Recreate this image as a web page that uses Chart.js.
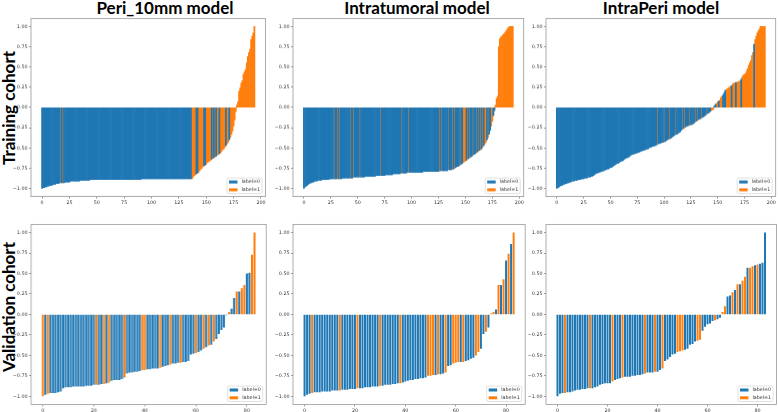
<!DOCTYPE html>
<html>
<head>
<meta charset="utf-8">
<script src="https://cdn.jsdelivr.net/npm/chart.js@4.4.1/dist/chart.umd.min.js"></script>
<style>
  body { margin: 0; width: 778px; height: 412px; background: #fff; position: relative; overflow: hidden; }
  .title { position: absolute; top: -1px; font: 700 17px Lato, "Open Sans", sans-serif; line-height: 17px; color: #000; white-space: nowrap; transform: translateX(-50%); }
  .row { position: absolute; font: 700 17px Lato, "Open Sans", sans-serif; line-height: 17px; color: #000; white-space: nowrap; transform: translate(-50%, -50%) rotate(-90deg); }
  .panel { position: absolute; }
</style>
</head>
<body>
<div class="title" style="left:165px">Peri_10mm model</div>
<div class="title" style="left:417px">Intratumoral model</div>
<div class="title" style="left:661px">IntraPeri model</div>
<div class="row" style="left:7.5px; top:108px">Training cohort</div>
<div class="row" style="left:7.5px; top:307px">Validation cohort</div>

<script>
// === Ticks ===
const xTicksTrain = [0, 25, 50, 75, 100, 125, 150, 175, 200];
const xTicksValid = [0, 20, 40, 60, 80];
const yTicks = [-1, -0.75, -0.5, -0.25, 0, 0.25, 0.5, 0.75, 1];

// === Training cohort: Peri_10mm ===
const periTrainScore = [
  -1.00,-0.99,-0.99,-0.98,-0.98,-0.97,-0.97,-0.96,-0.96,-0.96,
  -0.95,-0.95,-0.95,-0.94,-0.94,-0.94,-0.93,-0.93,-0.93,-0.93,
  -0.93,-0.92,-0.92,-0.92,-0.92,-0.92,-0.91,-0.91,-0.91,-0.91,
  -0.91,-0.91,-0.91,-0.91,-0.91,-0.90,-0.90,-0.90,-0.90,-0.90,
  -0.90,-0.90,-0.90,-0.90,-0.89,-0.89,-0.89,-0.89,-0.89,-0.89,
  -0.89,-0.89,-0.89,-0.89,-0.89,-0.89,-0.89,-0.89,-0.89,-0.89,
  -0.89,-0.89,-0.89,-0.89,-0.89,-0.89,-0.89,-0.89,-0.89,-0.89,
  -0.89,-0.89,-0.89,-0.89,-0.89,-0.89,-0.89,-0.89,-0.89,-0.89,
  -0.89,-0.89,-0.89,-0.89,-0.89,-0.89,-0.89,-0.89,-0.89,-0.89,
  -0.89,-0.88,-0.88,-0.88,-0.88,-0.88,-0.88,-0.88,-0.88,-0.88,
  -0.88,-0.88,-0.88,-0.88,-0.88,-0.88,-0.88,-0.88,-0.88,-0.88,
  -0.88,-0.88,-0.88,-0.88,-0.88,-0.88,-0.88,-0.88,-0.88,-0.88,
  -0.88,-0.88,-0.88,-0.88,-0.88,-0.88,-0.88,-0.88,-0.88,-0.88,
  -0.88,-0.88,-0.88,-0.88,-0.88,-0.88,-0.88,-0.88,-0.86,-0.84,
  -0.83,-0.82,-0.81,-0.80,-0.78,-0.76,-0.75,-0.73,-0.72,-0.71,
  -0.70,-0.68,-0.67,-0.66,-0.65,-0.64,-0.63,-0.62,-0.61,-0.60,
  -0.59,-0.58,-0.57,-0.56,-0.54,-0.52,-0.51,-0.49,-0.47,-0.45,
  -0.43,-0.40,-0.37,-0.33,-0.29,-0.23,-0.15,-0.05, 0.03, 0.07,
   0.20, 0.24, 0.30, 0.33, 0.41, 0.44, 0.47, 0.55, 0.63, 0.68,
   0.72, 0.84, 0.88, 0.92, 1.00
];
const periTrainLabel = [
  0,0,0,0,0,0,0,0,0,0, 0,0,0,0,0,0,0,1,0,1, 0,0,0,0,0,0,0,0,0,0, 0,0,0,0,0,0,0,0,0,0,
  0,0,0,0,0,0,0,0,0,0, 0,0,0,0,0,0,0,0,0,0, 0,0,0,0,0,0,0,0,0,0, 0,0,0,0,0,0,0,0,0,0,
  0,0,0,0,0,0,0,0,0,0, 0,0,0,0,0,0,0,0,0,0, 0,0,0,0,0,0,0,0,0,0, 0,0,0,0,0,0,0,0,0,0,
  0,0,0,0,0,0,0,0,0,0, 0,0,0,0,0,0,0,1,1,1, 1,0,0,1,1,1,1,1,0,0, 1,1,1,1,1,0,1,0,1,0,
  1,1,0,1,1,1,1,1,0,1, 1,0,1,1,1,1,1,1,1,1, 1,1,1,1,1,1,1,1,1,1, 1,1,1,1,1
];

// === Training cohort: Intratumoral ===
const intraTrainScore = [
  -1.00,-0.98,-0.97,-0.96,-0.95,-0.94,-0.93,-0.93,-0.92,-0.92,
  -0.91,-0.91,-0.91,-0.90,-0.90,-0.90,-0.90,-0.89,-0.89,-0.89,
  -0.89,-0.89,-0.89,-0.89,-0.88,-0.88,-0.88,-0.88,-0.88,-0.88,
  -0.88,-0.88,-0.88,-0.88,-0.88,-0.88,-0.87,-0.87,-0.87,-0.87,
  -0.87,-0.87,-0.87,-0.87,-0.87,-0.87,-0.86,-0.86,-0.86,-0.86,
  -0.86,-0.86,-0.86,-0.86,-0.86,-0.86,-0.86,-0.85,-0.85,-0.85,
  -0.85,-0.85,-0.85,-0.85,-0.85,-0.85,-0.85,-0.84,-0.84,-0.84,
  -0.84,-0.84,-0.84,-0.84,-0.84,-0.84,-0.83,-0.83,-0.83,-0.83,
  -0.83,-0.83,-0.83,-0.82,-0.82,-0.82,-0.82,-0.82,-0.82,-0.82,
  -0.81,-0.81,-0.81,-0.81,-0.81,-0.81,-0.80,-0.80,-0.80,-0.80,
  -0.80,-0.80,-0.80,-0.80,-0.80,-0.80,-0.80,-0.80,-0.80,-0.80,
  -0.80,-0.79,-0.79,-0.79,-0.79,-0.79,-0.79,-0.79,-0.79,-0.79,
  -0.79,-0.79,-0.79,-0.79,-0.79,-0.79,-0.78,-0.78,-0.78,-0.78,
  -0.78,-0.78,-0.78,-0.78,-0.77,-0.77,-0.77,-0.77,-0.76,-0.76,
  -0.75,-0.74,-0.73,-0.73,-0.72,-0.71,-0.70,-0.69,-0.68,-0.67,
  -0.66,-0.65,-0.64,-0.63,-0.62,-0.61,-0.60,-0.59,-0.58,-0.57,
  -0.56,-0.55,-0.54,-0.53,-0.52,-0.51,-0.49,-0.47,-0.45,-0.43,
  -0.40,-0.37,-0.33,-0.28,-0.23,-0.17,-0.10,-0.04, 0.03, 0.11,
   0.14, 0.75, 0.85, 0.87, 0.88, 0.90, 0.91, 0.93, 0.95, 0.97,
   0.99, 1.00, 1.00, 1.00, 1.00
];
const intraTrainLabel = [
  0,0,0,0,0,0,0,0,0,0, 0,0,0,0,0,0,0,0,0,0, 0,0,0,0,0,0,0,0,1,0, 0,1,0,1,0,0,0,0,0,0,
  0,0,0,1,0,0,1,0,0,0, 0,0,1,0,0,0,0,0,0,0, 0,0,0,0,0,0,0,0,0,0, 0,1,0,0,0,0,0,0,0,0,
  0,0,0,0,0,0,0,0,0,0, 0,1,0,0,0,0,0,1,0,0, 0,0,0,0,0,0,0,0,0,0, 0,0,0,0,0,0,0,0,0,0,
  0,0,0,0,0,0,1,0,1,0, 0,0,0,0,1,0,0,0,1,0, 1,0,0,0,0,1,0,0,1,1, 1,0,1,0,1,0,0,1,0,0,
  1,0,1,0,1,0,1,0,1,1, 0,1,0,0,1,1,0,0,1,1, 1,1,1,1,1,1,1,1,1,1, 1,1,1,1,1
];

// === Training cohort: IntraPeri ===
const intraPeriTrainScore = [
  -1.00,-0.99,-0.98,-0.97,-0.96,-0.96,-0.95,-0.95,-0.94,-0.94,
  -0.93,-0.93,-0.92,-0.92,-0.91,-0.91,-0.91,-0.90,-0.90,-0.90,
  -0.89,-0.89,-0.89,-0.88,-0.88,-0.88,-0.87,-0.87,-0.87,-0.86,
  -0.86,-0.86,-0.85,-0.85,-0.84,-0.83,-0.82,-0.81,-0.81,-0.80,
  -0.80,-0.79,-0.79,-0.78,-0.78,-0.77,-0.77,-0.76,-0.76,-0.75,
  -0.74,-0.74,-0.73,-0.72,-0.71,-0.70,-0.69,-0.69,-0.68,-0.67,
  -0.66,-0.66,-0.65,-0.64,-0.63,-0.62,-0.62,-0.61,-0.60,-0.59,
  -0.58,-0.58,-0.57,-0.57,-0.56,-0.56,-0.55,-0.55,-0.54,-0.54,
  -0.53,-0.53,-0.52,-0.52,-0.51,-0.51,-0.50,-0.49,-0.49,-0.48,
  -0.48,-0.47,-0.47,-0.46,-0.45,-0.45,-0.44,-0.44,-0.43,-0.43,
  -0.42,-0.42,-0.41,-0.40,-0.39,-0.39,-0.38,-0.37,-0.36,-0.35,
  -0.34,-0.33,-0.33,-0.32,-0.31,-0.30,-0.28,-0.27,-0.26,-0.25,
  -0.24,-0.23,-0.23,-0.22,-0.22,-0.21,-0.21,-0.20,-0.19,-0.18,
  -0.17,-0.16,-0.15,-0.14,-0.14,-0.13,-0.12,-0.11,-0.10,-0.09,
  -0.08,-0.07,-0.06,-0.05,-0.04,-0.03,-0.02, 0.02, 0.04, 0.05,
   0.07, 0.08, 0.09, 0.12, 0.14, 0.15, 0.18, 0.21, 0.22, 0.23,
   0.24, 0.25, 0.26, 0.27, 0.29, 0.30, 0.30, 0.31, 0.31, 0.32,
   0.32, 0.33, 0.35, 0.38, 0.40, 0.41, 0.42, 0.45, 0.48, 0.52,
   0.55, 0.58, 0.64, 0.68, 0.78, 0.84, 0.88, 0.92, 0.95, 0.97,
   1.00, 1.00, 1.00, 1.00, 1.00
];
const intraPeriTrainLabel = [
  0,0,0,0,0,0,0,0,0,0, 0,0,0,0,0,0,0,0,0,0, 0,0,0,0,0,0,0,0,0,0, 0,0,0,0,0,0,0,0,0,0,
  0,0,0,0,0,0,0,0,0,0, 0,0,0,0,0,0,0,0,0,0, 0,0,0,0,0,0,0,0,0,0, 0,0,0,0,0,0,0,0,0,0,
  0,0,0,0,0,0,0,0,0,0, 0,0,0,0,1,0,0,0,0,0, 1,0,0,0,0,1,0,0,0,0, 0,1,0,0,0,0,0,1,0,1,
  0,0,0,0,1,0,0,0,0,1, 0,1,0,0,0,1,0,0,0,0, 1,0,0,0,1,1,1,0,0,1, 1,0,1,1,1,0,0,0,1,1,
  1,1,1,0,1,1,1,0,1,1, 1,1,0,1,1,1,1,1,1,1, 1,1,1,1,0,1,1,1,1,1, 1,1,1,1,1
];

// === Validation cohort: Peri_10mm ===
const periValidScore = [
  -1.00,-0.98,-0.97,-0.96,-0.96,-0.96,-0.95,-0.94,-0.90,-0.89,
  -0.89,-0.89,-0.88,-0.88,-0.88,-0.88,-0.88,-0.87,-0.87,-0.87,
  -0.86,-0.86,-0.86,-0.85,-0.85,-0.84,-0.83,-0.81,-0.80,-0.80,
  -0.80,-0.79,-0.77,-0.72,-0.71,-0.71,-0.70,-0.70,-0.69,-0.68,
  -0.68,-0.67,-0.67,-0.66,-0.66,-0.66,-0.65,-0.64,-0.63,-0.62,
  -0.61,-0.60,-0.60,-0.59,-0.59,-0.58,-0.58,-0.57,-0.49,-0.48,
  -0.47,-0.46,-0.44,-0.42,-0.40,-0.38,-0.37,-0.33,-0.30,-0.24,
  -0.19,-0.16,-0.01, 0.03, 0.07, 0.20, 0.28, 0.28, 0.32, 0.36,
   0.50, 0.51, 0.73, 1.00
];
const periValidLabel = [
  1,0,1,0,0,0,0,0,0,0, 0,0,0,0,0,0,0,0,0,0, 0,1,0,0,1,0,1,0,0,0, 0,0,1,0,0,0,0,0,0,1,
  1,0,0,0,0,0,1,0,0,0, 1,0,0,0,1,0,0,0,0,0, 1,0,0,1,0,1,0,1,0,0, 0,0,0,1,0,0,1,0,1,1,
  0,0,1,1
];

// === Validation cohort: Intratumoral ===
const intraValidScore = [
  -1.00,-0.98,-0.97,-0.96,-0.95,-0.95,-0.95,-0.94,-0.94,-0.94,
  -0.94,-0.93,-0.93,-0.93,-0.93,-0.92,-0.92,-0.92,-0.91,-0.91,
  -0.91,-0.90,-0.90,-0.90,-0.89,-0.89,-0.89,-0.88,-0.88,-0.88,
  -0.87,-0.87,-0.86,-0.86,-0.86,-0.85,-0.85,-0.84,-0.84,-0.83,
  -0.82,-0.81,-0.80,-0.80,-0.79,-0.79,-0.78,-0.78,-0.77,-0.75,
  -0.75,-0.74,-0.74,-0.73,-0.73,-0.72,-0.71,-0.63,-0.62,-0.60,
  -0.59,-0.58,-0.58,-0.58,-0.57,-0.56,-0.54,-0.53,-0.50,-0.46,
  -0.42,-0.24,-0.21,-0.16, 0.01, 0.03, 0.06, 0.36, 0.36, 0.43,
   0.66, 0.74, 0.86, 1.00
];
const intraValidLabel = [
  0,0,0,1,0,0,0,0,0,0, 0,0,0,0,1,0,0,0,0,0, 0,1,0,0,0,0,0,0,0,0, 1,0,0,0,0,0,0,0,1,0,
  0,0,0,0,0,0,0,0,0,1, 1,1,0,1,0,0,1,0,0,1, 1,1,0,1,0,0,0,0,1,1, 0,0,1,0,1,1,0,1,0,1,
  0,1,0,1
];

// === Validation cohort: IntraPeri ===
const intraPeriValidScore = [
  -1.00,-0.97,-0.96,-0.96,-0.95,-0.95,-0.94,-0.93,-0.92,-0.92,
  -0.91,-0.91,-0.90,-0.90,-0.90,-0.89,-0.88,-0.86,-0.85,-0.84,
  -0.84,-0.84,-0.82,-0.80,-0.79,-0.78,-0.77,-0.76,-0.76,-0.76,
  -0.75,-0.75,-0.74,-0.74,-0.73,-0.72,-0.71,-0.71,-0.71,-0.70,
  -0.70,-0.68,-0.66,-0.57,-0.55,-0.52,-0.49,-0.48,-0.46,-0.45,
  -0.44,-0.43,-0.42,-0.37,-0.36,-0.33,-0.32,-0.31,-0.20,-0.15,
  -0.12,-0.11,-0.08,-0.07,-0.06,-0.04, 0.03, 0.10, 0.22, 0.23,
   0.27, 0.30, 0.37, 0.37, 0.41, 0.46, 0.57, 0.57, 0.59, 0.60,
   0.61, 0.62, 0.63, 1.00
];
const intraPeriValidLabel = [
  0,0,0,1,0,0,0,0,0,0, 0,0,0,1,0,0,0,0,0,0, 0,0,1,0,0,0,1,0,0,0, 0,0,0,0,0,1,0,0,0,1,
  0,0,1,0,0,0,0,0,1,1, 1,0,0,0,0,0,1,1,0,0, 0,0,0,1,0,0,1,1,0,0, 1,0,1,0,1,1,0,1,1,0,
  1,0,0,0
];

const colors = ['#1f77b4', '#ff7f0e'];
const tickFont = { family: 'DejaVu Sans', size: 4.8 };

// === Marco y leyenda dentro del área ===
const framePlugin = {
  id: 'frame',
  afterDraw(chart) {
    const a = chart.chartArea;
    const ctx = chart.ctx;
    ctx.save();
    ctx.strokeStyle = '#999';
    ctx.lineWidth = 0.8;
    ctx.strokeRect(a.left, a.top, a.right - a.left, a.bottom - a.top);

    const w = 35, h = 15.5;
    const x0 = a.right - 3.5 - w, y0 = a.bottom - 3 - h;
    ctx.fillStyle = 'rgba(255,255,255,0.85)';
    ctx.strokeStyle = '#ccc';
    ctx.lineWidth = 0.6;
    ctx.beginPath();
    ctx.roundRect(x0, y0, w, h, 1.5);
    ctx.fill();
    ctx.stroke();
    ctx.font = '4.8px "DejaVu Sans"';
    ctx.textBaseline = 'middle';
    chart.data.datasets.forEach((ds, i) => {
      const cy = y0 + 4 + i * 7.8;
      ctx.fillStyle = ds.backgroundColor;
      ctx.fillRect(x0 + 2, cy - 1.5, 8.5, 3);
      ctx.fillStyle = '#333';
      ctx.fillText(ds.label, x0 + 14.5, cy);
    });
    ctx.restore();
  }
};

const panels = [
  { score: periTrainScore, label: periTrainLabel, xTicks: xTicksTrain, area: [31, 17.2, 265.5, 195.8], bp: 1 },
  { score: intraTrainScore, label: intraTrainLabel, xTicks: xTicksTrain, area: [293.3, 17.2, 524, 195.8], bp: 1 },
  { score: intraPeriTrainScore, label: intraPeriTrainLabel, xTicks: xTicksTrain, area: [546.3, 17.2, 776, 195.8], bp: 1 },
  { score: periValidScore, label: periValidLabel, xTicks: xTicksValid, area: [31, 222.5, 265.2, 404], bp: 0.8 },
  { score: intraValidScore, label: intraValidLabel, xTicks: xTicksValid, area: [292.8, 222.5, 525, 404], bp: 0.8 },
  { score: intraPeriValidScore, label: intraPeriValidLabel, xTicks: xTicksValid, area: [546, 222.5, 776.5, 404], bp: 0.8 }
];

const yW = 31, xH = 12, padT = 3, padR = 1.5;

panels.forEach(p => {
  const [L, T, R, B] = p.area;
  const box = document.createElement('div');
  box.className = 'panel';
  box.style.left = (L - yW) + 'px';
  box.style.top = (T - padT) + 'px';
  box.style.width = (R - L + yW + padR) + 'px';
  box.style.height = (B - T + padT + xH) + 'px';
  const canvas = document.createElement('canvas');
  box.appendChild(canvas);
  document.body.appendChild(box);

  const n = p.score.length;
  const span = n - 1 + 0.8;
  const xMin = -0.4 - 0.05 * span;
  const xMax = n - 1 + 0.4 + 0.05 * span;

  const datasets = [0, 1].map(k => ({
    label: 'label=' + k,
    data: p.score.map((v, i) => ({ x: i, y: v })).filter((d, i) => p.label[i] === k),
    backgroundColor: colors[k],
    borderWidth: 0,
    grouped: false,
    barPercentage: p.bp,
    categoryPercentage: 1
  }));

  new Chart(canvas, {
    type: 'bar',
    data: { datasets },
    plugins: [framePlugin],
    options: {
      animation: false,
      responsive: true,
      maintainAspectRatio: false,
      layout: { padding: { top: padT, right: padR, left: 0, bottom: 0 } },
      plugins: { legend: { display: false }, tooltip: { enabled: false } },
      scales: {
        x: {
          type: 'linear',
          min: xMin,
          max: xMax,
          offset: false,
          afterBuildTicks: s => { s.ticks = p.xTicks.map(v => ({ value: v })); },
          afterFit: s => { s.height = xH; },
          grid: { display: true, drawOnChartArea: false, offset: false, tickLength: 2, color: '#555', lineWidth: 0.6 },
          border: { display: false },
          ticks: { font: tickFont, color: '#333', padding: 1, maxRotation: 0, autoSkip: false, callback: v => String(v) }
        },
        y: {
          min: -1.1,
          max: 1.1,
          afterBuildTicks: s => { s.ticks = yTicks.map(v => ({ value: v })); },
          afterFit: s => { s.width = yW; },
          grid: { display: true, drawOnChartArea: false, tickLength: 2, color: '#555', lineWidth: 0.6 },
          border: { display: false },
          ticks: { font: tickFont, color: '#333', padding: 1.5, callback: v => (v < 0 ? '\u2212' : '') + Math.abs(v).toFixed(2) }
        }
      }
    }
  });
});
</script>
</body>
</html>
